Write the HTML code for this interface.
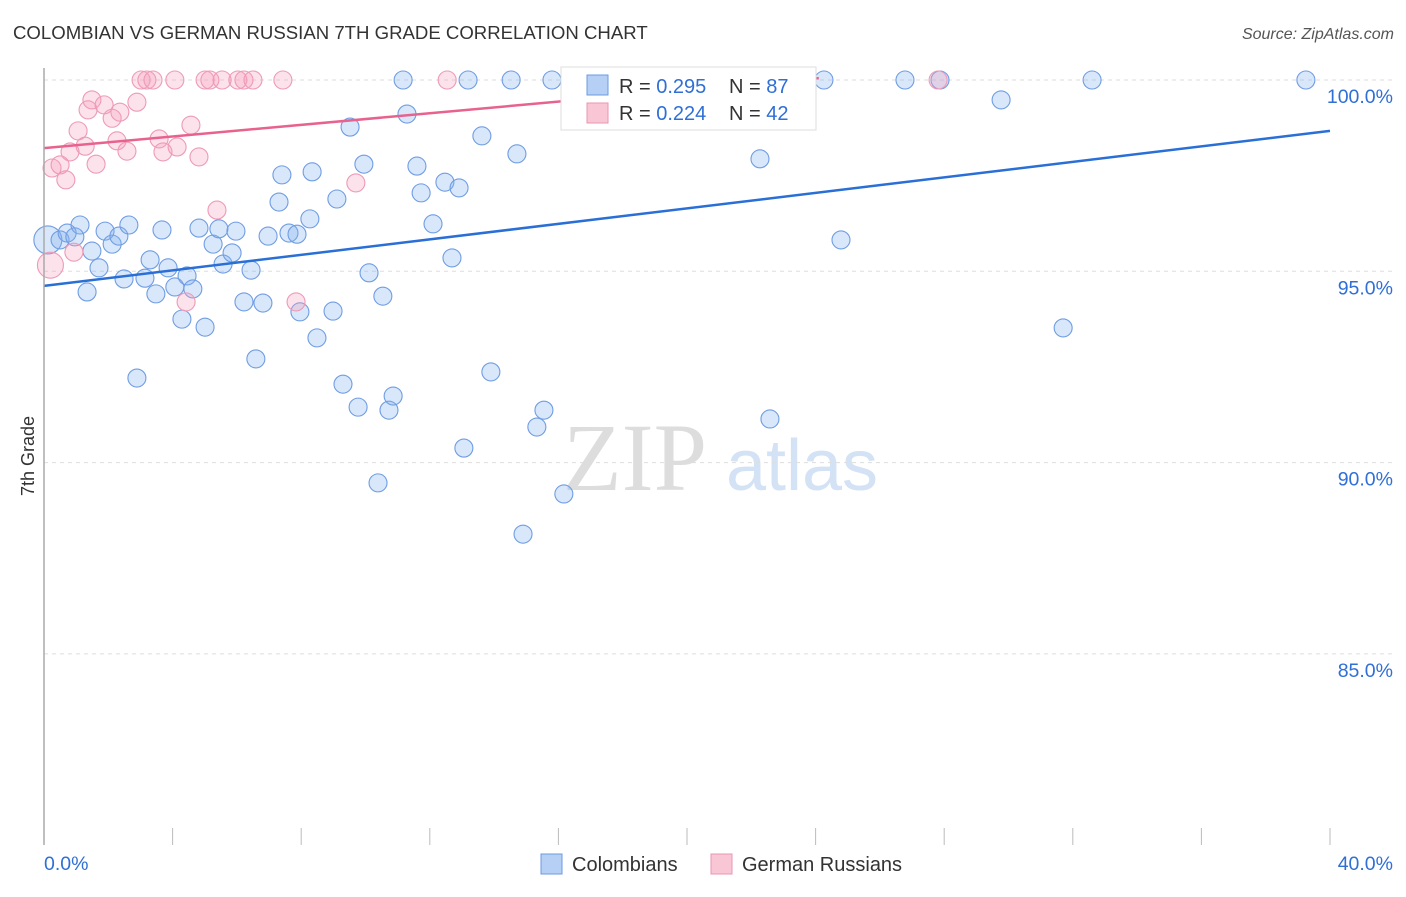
<!DOCTYPE html>
<html><head><meta charset="utf-8"><style>
body{margin:0;background:#fff;font-family:"Liberation Sans",sans-serif}
</style></head><body>
<svg width="1406" height="892" xmlns="http://www.w3.org/2000/svg" id="c">
<text x="13" y="39" font-size="18.6" fill="#333">COLOMBIAN VS GERMAN RUSSIAN 7TH GRADE CORRELATION CHART</text>
<text x="1394" y="39" font-size="16" fill="#555" text-anchor="end" font-style="italic">Source: ZipAtlas.com</text>
<text transform="translate(34,456) rotate(-90)" font-size="18" fill="#333" text-anchor="middle">7th Grade</text>
<g><text x="635" y="490" font-size="96" fill="#ddd" font-family="Liberation Serif" text-anchor="middle">ZIP</text><text x="802" y="490" font-size="72" fill="#d4e2f5" text-anchor="middle">atlas</text></g>
<g id="grid"></g><g id="marks"></g>
<line x1="44" y1="68" x2="44" y2="845" stroke="#aaa" stroke-width="1.5"/>
<g>
<rect x="561" y="67" width="255" height="63" fill="#fff" stroke="#ddd"/>
<rect x="587" y="75" width="21" height="20" fill="#b6cff4" stroke="#6a9be0"/>
<rect x="587" y="103" width="21" height="20" fill="#f9c6d5" stroke="#ea95b0"/>
<text x="619" y="93" font-size="20" fill="#333">R = <tspan fill="#2f6fd6">0.295</tspan></text>
<text x="729" y="93" font-size="20" fill="#333">N = <tspan fill="#2f6fd6">87</tspan></text>
<text x="619" y="120" font-size="20" fill="#333">R = <tspan fill="#2f6fd6">0.224</tspan></text>
<text x="729" y="120" font-size="20" fill="#333">N = <tspan fill="#2f6fd6">42</tspan></text>
</g>
<g>
<rect x="541" y="854" width="21" height="20" fill="#b6cff4" stroke="#6a9be0"/>
<text x="572" y="871" font-size="20" fill="#333">Colombians</text>
<rect x="711" y="854" width="21" height="20" fill="#f9c6d5" stroke="#ea95b0"/>
<text x="742" y="871" font-size="20" fill="#333">German Russians</text>
</g>
<text x="44" y="870" font-size="19.5" fill="#2f6fd6">0.0%</text>
<text x="1393" y="870" font-size="19.5" fill="#2f6fd6" text-anchor="end">40.0%</text>
</svg>
<script>
const yTicks=[100,95,90,85];
const yTickLabels=["100.0%","95.0%","90.0%","85.0%"];
const xTicks=[0,4,8,12,16,20,24,28,32,36,40];
const blueX=[0.12,0.5,0.72,1.12,0.96,1.49,1.34,1.71,1.9,2.12,2.33,2.49,2.64,2.89,3.14,3.3,3.48,3.67,3.86,4.07,4.29,4.45,4.63,4.82,5.01,5.26,5.44,5.57,5.85,5.97,6.22,6.44,6.59,6.81,6.97,7.31,7.4,7.62,7.87,7.96,8.27,8.34,8.49,8.99,9.11,9.3,9.52,9.77,9.95,10.11,10.39,10.54,10.73,10.86,11.17,11.29,11.6,11.73,12.1,12.47,12.69,12.91,13.06,13.19,13.62,13.9,14.53,14.71,14.9,15.33,15.55,15.8,16.17,17.23,19.56,22.27,22.58,24.26,24.79,26.78,27.87,29.77,31.7,32.6,39.25];
const blueY=[95.82,95.82,96.0,96.21,95.9,95.53,94.46,95.09,96.05,95.71,95.92,94.8,96.21,92.21,94.82,95.3,94.41,96.08,95.09,94.59,93.75,94.88,94.54,96.13,93.54,95.71,96.11,95.19,95.48,96.05,94.2,95.03,92.71,94.17,95.92,96.81,97.52,96.0,95.97,93.94,96.37,97.6,93.26,93.96,96.89,92.05,98.77,91.45,97.8,94.96,89.47,94.35,91.37,91.74,100,99.11,97.75,97.05,96.24,97.33,95.35,97.18,90.38,100,98.54,92.37,100,98.07,88.13,90.93,91.37,100,89.18,99.9,100,97.94,91.14,100,95.82,100,100,99.48,93.52,100,100];
const pinkX=[0.2,0.25,0.5,0.68,0.81,0.93,1.06,1.28,1.37,1.49,1.62,1.87,2.12,2.27,2.36,2.58,2.89,3.02,3.2,3.39,3.58,3.7,4.07,4.14,4.57,4.42,4.82,5.01,5.16,5.38,5.54,6.03,6.22,6.5,7.43,7.84,9.7,12.54,27.81];
const pinkY=[95.16,97.7,97.78,97.39,98.12,95.5,98.67,98.27,99.22,99.48,97.8,99.35,99.0,98.41,99.16,98.14,99.42,100,100,100,98.46,98.12,100,98.25,98.82,94.2,97.99,100,100,96.6,100,100,100,100,100,94.2,97.31,100,100];
const blueTrend=[94.62,98.67];
const pinkTrend=[98.22,100.05];const pinkTrendEnd=24.1;
const NS="http://www.w3.org/2000/svg";
const X=v=>44+v*1286/40, Y=v=>80+(100-v)*38.26;
function mk(t,a,p){const e=document.createElementNS(NS,t);for(const k in a)e.setAttribute(k,a[k]);(p||document.getElementById('marks')).appendChild(e);return e;}
const g=document.getElementById('grid');
yTicks.forEach((t,i)=>{
 const l=mk('line',{x1:44,x2:1393,y1:Y(t),y2:Y(t),stroke:'#ddd','stroke-dasharray':'4,4'},g);
 
 
 const tx=mk('text',{x:1393,y:Y(t)+23,'font-size':19.5,fill:'#2f6fd6','text-anchor':'end'},g);tx.textContent=yTickLabels[i];
 
 
});
xTicks.forEach(t=>{
 const l=mk('line',{x1:X(t),x2:X(t),y1:828,y2:845,stroke:'#bbb'},g);
 
 
});
blueX.forEach((x,i)=>{
 const c=mk('circle',{cx:X(x),cy:Y(blueY[i]),r:i==0?14:9,fill:'rgba(130,175,240,0.3)',stroke:'#6f9de3','stroke-width':1.1});
 
 
});
pinkX.forEach((x,i)=>{
 const c=mk('circle',{cx:X(x),cy:Y(pinkY[i]),r:i==0?13:9,fill:'rgba(245,160,190,0.3)',stroke:'#ee9ab6','stroke-width':1.1});
 
 
});
const bl=mk('line',{x1:X(0),y1:Y(blueTrend[0]),x2:X(40),y2:Y(blueTrend[1]),stroke:'#2a6fd6','stroke-width':2.5});


const pl=mk('line',{x1:X(0),y1:Y(pinkTrend[0]),x2:X(pinkTrendEnd),y2:Y(pinkTrend[1]),stroke:'#e8628e','stroke-width':2.5});


</script>
</body></html>
